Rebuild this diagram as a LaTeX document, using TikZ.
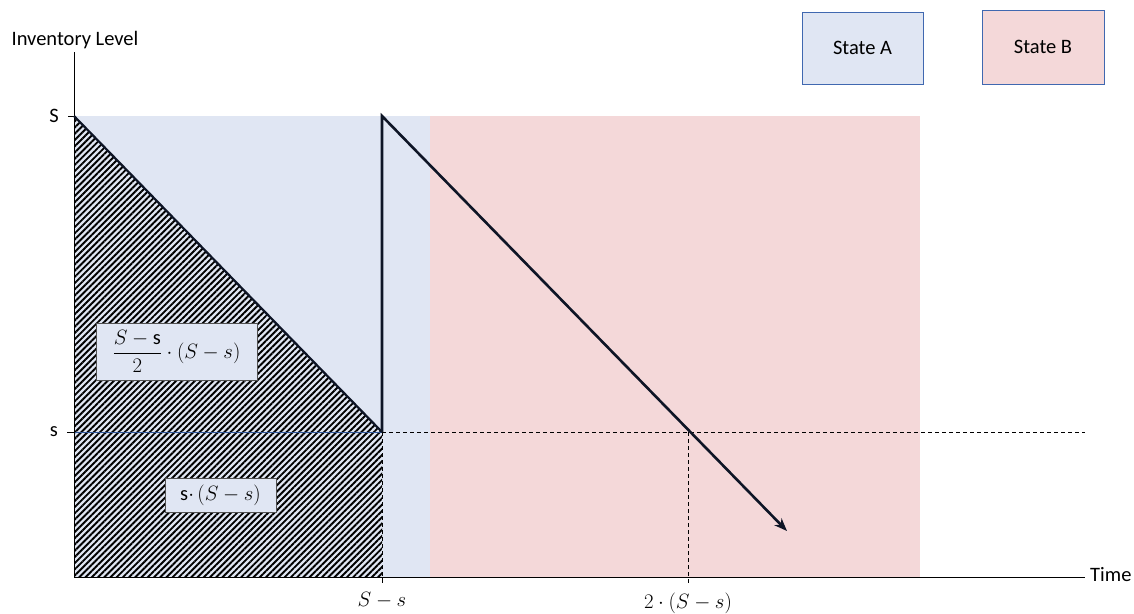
\documentclass[tikz,border=0pt]{standalone}
\usepackage{fontspec}
\setmainfont{Carlito}
\usetikzlibrary{patterns.meta,arrows.meta}
\definecolor{blueA}{HTML}{E0E6F3}
\definecolor{pinkB}{HTML}{F4D8D9}
\definecolor{edgeblue}{HTML}{4068B0}
\definecolor{lineblue}{HTML}{2F5597}
\definecolor{navyblack}{HTML}{0E1526}
\definecolor{boxgray}{HTML}{505050}
\tikzset{
  statebox/.style={draw=edgeblue, line width=0.9pt, minimum width=121pt, minimum height=72pt, inner sep=0pt},
  formbox/.style={draw=boxgray, line width=0.9pt, fill=blueA, inner sep=0pt},
  lbl/.style={inner sep=0pt},
  guide/.style={dashed, line width=0.7pt, dash pattern=on 4pt off 3pt},
  axis/.style={line width=0.9pt},
  thickline/.style={line width=2.6pt, draw=navyblack}
}
\begin{document}
\begin{tikzpicture}[x=1pt,y=-1pt, font=\fontsize{20.5}{24}\selectfont]
\useasboundingbox (0,0) rectangle (1134,613);
% key points
\coordinate (Ytop) at (74,52);
\coordinate (O) at (74,577);
\coordinate (Xend) at (1085,577);
\coordinate (Stop) at (74,116);
\coordinate (sLev) at (74,432);
\coordinate (P1) at (382,432);
\coordinate (P2) at (382,116);
\coordinate (P1b) at (382,577);
\coordinate (Q) at (688,432);
\coordinate (Qb) at (688,583);
\coordinate (E) at (787,531);
\coordinate (Dend) at (1085,432);
% state regions
\fill[blueA] (74,116) rectangle (430,577);
\fill[pinkB] (430,116) rectangle (920,577);
% hatched area
\fill[pattern={Lines[angle=45,distance=4.4pt,line width=1.9pt]}, pattern color=black]
  (Stop) -- (P1) -- (P1b) -- (O) -- cycle;
\draw[lineblue, line width=0.8pt] (sLev) -- (P1);
\draw[lineblue, line width=0.8pt] (Stop) -- (O);
% formula boxes
\node[formbox, minimum width=161pt, minimum height=57pt] (f1) at (176.5,351.5)
  {$\displaystyle\frac{S-\mathrm{s}}{2}\cdot(S-s)$};
\node[formbox, minimum width=111pt, minimum height=34pt] (f2) at (220.5,495)
  {s$\cdot\,(S-s)$};
% guides
\draw[guide] (P1) -- (Dend);
\draw[guide] (Q) -- (Qb);
\draw[guide] (P1) -- (P1b);
% axes
\draw[axis] (Ytop) -- (O) -- (Xend);
\draw[axis] (68,116) -- (Stop);
\draw[axis] (67,432) -- (sLev);
\draw[axis] (P1b) -- (382,583);
% inventory path
\draw[line width=2.2pt, draw=navyblack] (Stop) -- (P1);
\draw[thickline, line join=miter, -{Stealth[length=13pt,width=10pt]}] (P1) -- (P2) -- (E);
% labels
\node[lbl] (ylab) at (75,40) {Inventory Level};
\node[lbl] (Slab) at (54,116) {S};
\node[lbl] (slab) at (54,432) {s};
\node[lbl, anchor=west] (tlab) at (1090,575) {Time};
\node[lbl] (x1) at (382,600) {$S-s$};
\node[lbl] (x2) at (688,603) {$2\cdot(S-s)$};
% legend
\node[statebox, fill=blueA] (A) at (862.5,48) {State A};
\node[statebox, fill=pinkB, minimum width=122pt, minimum height=74pt] (B) at (1043,47) {State B};
\end{tikzpicture}
\end{document}
